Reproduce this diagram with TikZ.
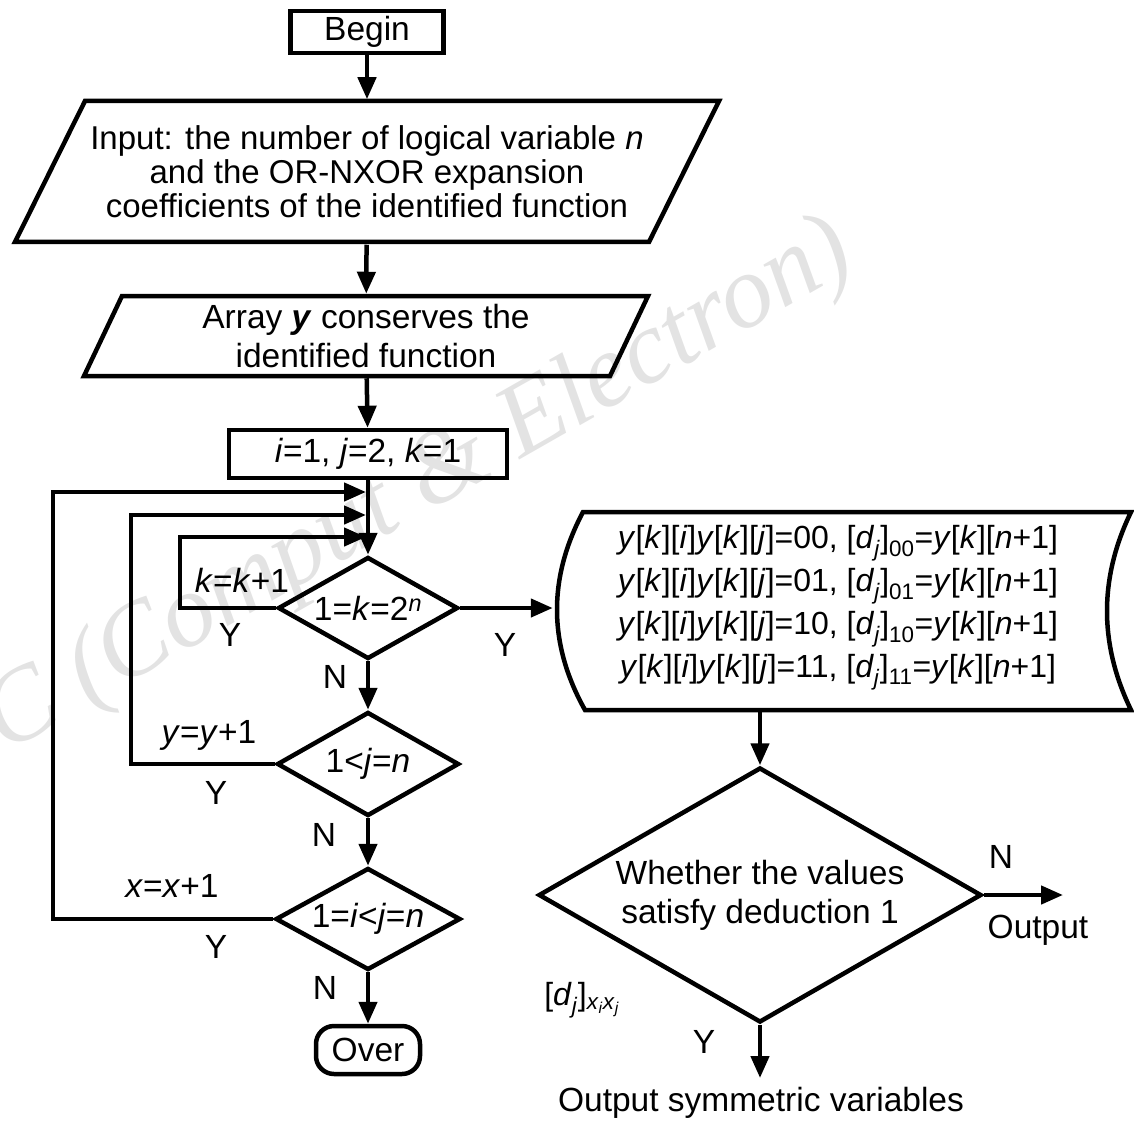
\documentclass[tikz,border=0pt]{standalone}
\usepackage{fontspec}
\setmainfont{Liberation Sans}
\newfontfamily\wmfont{Liberation Serif}
\usetikzlibrary{shapes.geometric,arrows.meta,calc}
\newcommand{\myit}[1]{\textit{#1}}
\begin{document}
\begin{tikzpicture}[x=1pt,y=-1pt, line width=4.5pt,
  every node/.style={font=\fontsize{33.5}{36}\selectfont, inner sep=0pt},
  arr/.style={-{Triangle[length=22pt,width=18pt]}},
  boxnode/.style={draw, rectangle},
  dia/.style={draw, diamond, aspect=1.75, align=center}]
\useasboundingbox (0,0) rectangle (1134,1123);
% watermark
\node[font=\wmfont\itshape\fontsize{104}{110}\selectfont, text=black!11, rotate=29.7, anchor=base] (wm) at (432,510) {C (Comput \& Electron)};

% nodes
\node[boxnode, minimum width=153, minimum height=42] (begin) at (367,32) {Begin};

\draw (85,101) -- (719,101) -- (649,242) -- (15,242) -- cycle;
\node[minimum height=141, align=center, font=\fontsize{33}{34}\selectfont] (input) at (367,172)
  {Input: the number of logical variable \myit{n}\\and the OR-NXOR expansion\\coefficients of the identified function};

\draw (122,296) -- (648,296) -- (610,376) -- (84,376) -- cycle;
\node[minimum height=80, align=center, font=\fontsize{33.5}{39}\selectfont] (array) at (366,336)
  {Array \textbf{\myit{y}} conserves the\\identified function};

\node[boxnode, minimum width=278, minimum height=48] (init) at (368,454) {\myit{i}=1, \myit{j}=2, \myit{k}=1};

\node[dia, minimum width=180, minimum height=102] (d1) at (368,608) {1=\myit{k}=2\textsuperscript{\myit{n}}};
\node[dia, minimum width=182, minimum height=104] (d2) at (368,764) {1<\myit{j}=\myit{n}};
\node[dia, minimum width=185, minimum height=102] (d3) at (368,919) {1=\myit{i}<\myit{j}=\myit{n}};
\node[draw, rounded corners=18pt, minimum width=104, minimum height=48] (over) at (368,1050) {Over};

% data box
\draw (583,512) -- (1131,512) .. controls (1099,578) and (1099,644) .. (1131,710)
  -- (585,710) .. controls (548,644) and (548,578) .. cycle;
\node[minimum width=566, minimum height=204, align=center, font=\fontsize{32}{43}\selectfont] (data) at (838,608)
  {\myit{y}[\myit{k}][\myit{i}]\myit{y}[\myit{k}][\myit{j}]=00, [\myit{d}\textsubscript{\myit{j}}]\textsubscript{00}=\myit{y}[\myit{k}][\myit{n}+1]\\
   \myit{y}[\myit{k}][\myit{i}]\myit{y}[\myit{k}][\myit{j}]=01, [\myit{d}\textsubscript{\myit{j}}]\textsubscript{01}=\myit{y}[\myit{k}][\myit{n}+1]\\
   \myit{y}[\myit{k}][\myit{i}]\myit{y}[\myit{k}][\myit{j}]=10, [\myit{d}\textsubscript{\myit{j}}]\textsubscript{10}=\myit{y}[\myit{k}][\myit{n}+1]\\
   \myit{y}[\myit{k}][\myit{i}]\myit{y}[\myit{k}][\myit{j}]=11, [\myit{d}\textsubscript{\myit{j}}]\textsubscript{11}=\myit{y}[\myit{k}][\myit{n}+1]};

\node[dia, minimum width=443, minimum height=255, font=\fontsize{33.5}{39}\selectfont] (d4) at (760,895)
  {Whether the values\\satisfy deduction 1};

% coordinates
\coordinate (m1) at (366,492);
\coordinate (m2) at (366,515);
\coordinate (m3) at (366,537);
\coordinate (l1) at (53,492);
\coordinate (l2) at (131,515);
\coordinate (l3) at (180,537);
\coordinate (outN) at (1063,895);
\coordinate (outY) at (760,1078);

% connectors
\draw[arr] (begin) -- (input);
\draw[arr] (input) -- (array);
\draw[arr] (array) -- (init);
\draw[arr] (init) -- (d1);
\draw[arr] (d3.west) -| (l1) -- (m1);
\draw[arr] (d2.west) -| (l2) -- (m2);
\draw[arr] (d1.west) -| (l3) -- (m3);
\draw[arr] (d1) -- (d2);
\draw[arr] (d2) -- (d3);
\draw[arr] (d3) -- (over);
\draw[arr] (d1.east) -- (data.west);
\draw[arr] (d4 |- data.south) -- (d4);
\draw[arr] (d4.east) -- (outN);
\draw[arr] (d4.south) -- (outY);

% labels
\node (lk) at (242,580) {\myit{k}=\myit{k}+1};
\node (ya) at (230,635) {Y};
\node (na) at (335,677) {N};
\node (yb) at (505,645) {Y};
\node (ly) at (209,735) {\myit{y}=\myit{y}+1};
\node (yc) at (216,793) {Y};
\node (nb) at (324,835) {N};
\node (lx) at (172,886) {\myit{x}=\myit{x}+1};
\node (yd) at (216,947) {Y};
\node (nc) at (325,988) {N};
\node (nd) at (1001,857) {N};
\node (out) at (1038,930) {Output};
\node (ye) at (704,1042) {Y};
\node (osv) at (761,1103) {Output symmetric variables};
\node[font=\fontsize{32}{34}\selectfont] (dj) at (582,1000)
  {[\myit{d}\textsubscript{\myit{j}}]\textsubscript{\myit{x}\textsubscript{\myit{i}}\myit{x}\textsubscript{\myit{j}}}};
\end{tikzpicture}
\end{document}
